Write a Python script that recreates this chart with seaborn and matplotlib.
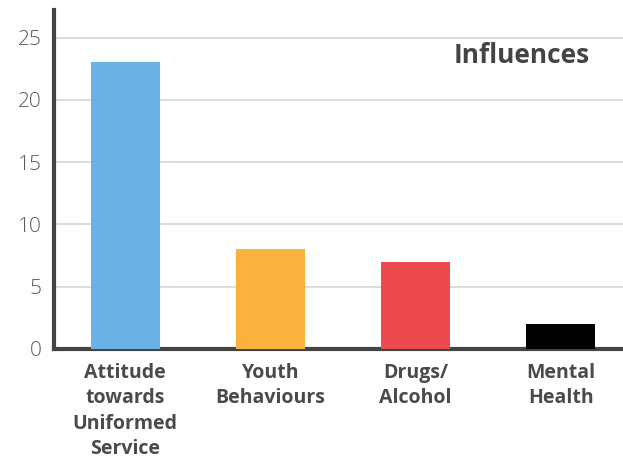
import matplotlib
matplotlib.use("Agg")
import matplotlib.pyplot as plt
import seaborn as sns
import pandas as pd

categories = ["Attitude\ntowards\nUniformed\nService", "Youth\nBehaviours", "Drugs/\nAlcohol", "Mental\nHealth"]
counts = [23, 8, 7, 2]
bar_colors = ["#6AB2E6", "#F9B23E", "#EC4A4C", "#000000"]
y_ticks = [0, 5, 10, 15, 20, 25]
title = "Influences"

df = pd.DataFrame({"category": categories, "count": counts})

sns.set_theme(style="white")
plt.rcParams["font.family"] = ["Open Sans", "DejaVu Sans"]

fig = plt.figure(figsize=(6.23, 4.61), dpi=100)
ax = fig.add_axes([0.0867, 0.243, 0.9133, 0.735])

sns.barplot(data=df, x="category", y="count", hue="category", palette=bar_colors,
            legend=False, width=0.476, saturation=1, linewidth=0, ax=ax, zorder=3)

ax.set_xlim(-0.49, 3.43)
ax.set_ylim(0, 27.2)
ax.set_yticks(y_ticks)
ax.set_yticklabels([str(v) for v in y_ticks], fontsize=15, color="#5a5a5a", fontweight="light")
ax.set_xticks(range(len(categories)))
ax.set_xticklabels(categories, fontsize=14, fontweight="bold", color="#4a4a4a", linespacing=1.36)
ax.tick_params(axis="y", length=0, pad=9)
ax.tick_params(axis="x", length=0, pad=10)
ax.set_xlabel("")
ax.set_ylabel("")

ax.yaxis.grid(True, color="#d9d9d9", linewidth=1.3, zorder=0)
ax.set_axisbelow(True)
for side in ["top", "right"]:
    ax.spines[side].set_visible(False)
for side in ["left", "bottom"]:
    ax.spines[side].set_color("#444444")
    ax.spines[side].set_linewidth(3)

ax.text(0.942, 0.865, title, transform=ax.transAxes, ha="right", va="center",
        fontsize=19, fontweight="bold", color="#444444")

fig.savefig("out.png", dpi=100)
